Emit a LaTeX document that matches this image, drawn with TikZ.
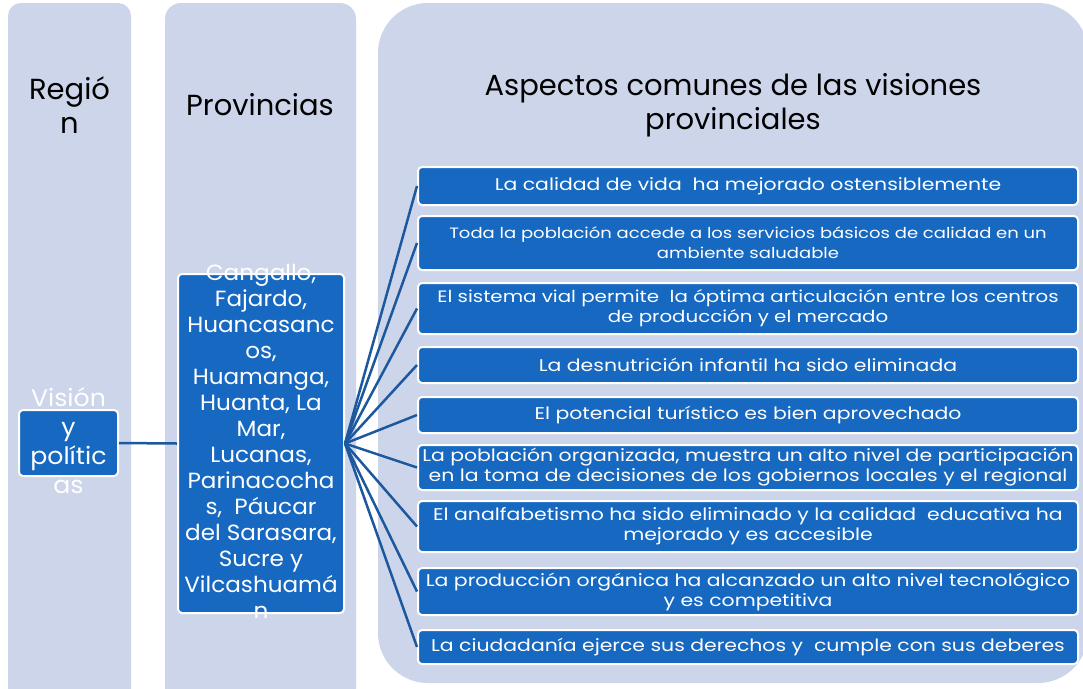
\documentclass[tikz,border=0pt]{standalone}
\usepackage{fontspec}
\setmainfont{Poppins}
\newfontfamily\widefont{Poppins}[FakeStretch=1.2]
\newfontfamily\midfont{Poppins}[FakeStretch=1.05]
\definecolor{colbg}{RGB}{205,213,234}
\definecolor{boxblue}{RGB}{22,104,192}
\definecolor{linkblue}{RGB}{28,88,158}
\begin{document}
\begin{tikzpicture}[x=1pt,y=-1pt,
  bluebox/.style={fill=boxblue, draw=white, line width=2pt, rounded corners=4pt, inner sep=0pt},
  boxtext/.style={text=white, font=\widefont\fontsize{17}{20}\selectfont, align=center},
  bigtext/.style={text=white, font=\midfont\fontsize{22}{26}\selectfont, align=center, inner sep=0pt},
  title/.style={text=black, font=\fontsize{29}{34}\selectfont, align=center},
  link/.style={draw=linkblue, line width=2.5pt}]
\useasboundingbox (0,0) rectangle (1083,688);
\fill[white] (0,0) rectangle (1083,688);
\begin{scope}
\clip (0,0) rectangle (1083,688);
\fill[colbg, rounded corners=13pt] (8,720) -- (8,3) -- (131,3) -- (131,720) -- cycle;
\fill[colbg, rounded corners=16pt] (165,720) -- (165,3) -- (356,3) -- (356,720) -- cycle;
\fill[colbg, rounded corners=50pt] (378,3) rectangle (1088,683);
\end{scope}
% titles
\node[title] (t1) at (69.5,105) {Regió\\n};
\node[title] (t2) at (260,105) {Provincias};
\node[title] (t3) at (733,105) {Aspectos comunes de las visiones\\provinciales};
% left box
\node[bluebox, minimum width=99pt, minimum height=66pt] (vis) at (68.5,443) {};
\node[bigtext, font=\midfont\fontsize{24}{29}\selectfont] (vistext) at (68.5,441) {Visión\\y\\polític\\as};
% middle box
\node[bluebox, minimum width=166pt, minimum height=339pt] (prov) at (261,443.5) {};
\node[bigtext] (provtext) at (261,441) {Cangallo,\\Fajardo,\\Huancasanc\\os,\\Huamanga,\\Huanta, La\\Mar,\\Lucanas,\\Parinacocha\\s,~ Páucar\\del Sarasara,\\Sucre y\\Vilcashuamá\\n};
% right boxes
\tikzset{rbox/.style={bluebox, boxtext, minimum width=660pt}}
\node[rbox, minimum height=38pt] (b1) at (748,186) {La calidad de vida~ ha mejorado ostensiblemente};
\node[rbox, minimum height=54pt, font=\widefont\fontsize{15}{20}\selectfont] (b2) at (748,243) {Toda la población accede a los servicios básicos de calidad en un\\ambiente saludable};
\node[rbox, minimum height=51pt, font=\widefont\fontsize{16.5}{20}\selectfont] (b3) at (748,308.5) {El sistema vial permite~ la óptima articulación entre los centros\\de producción y el mercado};
\node[rbox, minimum height=36pt] (b4) at (748,365) {La desnutrición infantil ha sido eliminada};
\node[rbox, minimum height=36pt] (b5) at (748,415) {El potencial turístico es bien aprovechado};
\node[rbox, minimum height=45pt] (b6) at (748,467.5) {La población organizada, muestra un alto nivel de participación\\en la toma de decisiones de los gobiernos locales y el regional};
\node[rbox, minimum height=51pt] (b7) at (748,526.5) {El analfabetismo ha sido eliminado y la calidad~ educativa ha\\mejorado y es accesible};
\node[rbox, minimum height=47pt] (b8) at (748,591.5) {La producción orgánica ha alcanzado un alto nivel tecnológico\\y es competitiva};
\node[rbox, minimum height=34pt] (b9) at (748,647) {La ciudadanía ejerce sus derechos y~ cumple con sus deberes};
% connectors
\draw[link] (vis.east) -- (prov.west);
\foreach \b in {b1,b2,b3,b4,b5,b6,b7,b8,b9}{
  \draw[link] (prov.east) -- (\b.west);
}
\end{tikzpicture}
\end{document}
